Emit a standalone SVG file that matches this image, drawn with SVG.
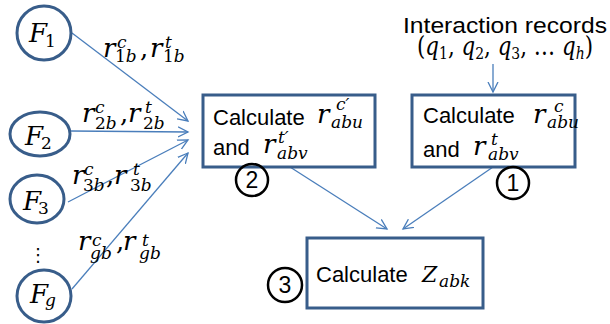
<svg xmlns="http://www.w3.org/2000/svg" width="610" height="324" viewBox="0 0 610 324">
<defs>
<marker id="arr" markerWidth="12" markerHeight="12" refX="10" refY="5" orient="auto" markerUnits="userSpaceOnUse" viewBox="0 0 12 10">
<path d="M0,0 L10,5 L0,10" fill="none" stroke="#4A7EBB" stroke-width="1.3"/>
</marker>
<style>
.node{fill:#fff;stroke:#385D8A;stroke-width:3}
.edge{stroke:#4A7EBB;stroke-width:1.3;fill:none;marker-end:url(#arr)}
.t{font-family:"Liberation Sans",Arial,sans-serif;font-size:22px;fill:#000}
.m{font-family:"DejaVu Serif","Liberation Serif",serif;font-style:italic;font-size:26px;fill:#000}
.s{font-size:17px}
.u{font-style:normal}
.badge{fill:none;stroke:#000;stroke-width:2.5}
.bn{font-family:"Liberation Sans",Arial,sans-serif;font-size:23px;text-anchor:middle;fill:#000}
</style>
</defs>
<rect width="610" height="324" fill="#fff"/>

<g id="connectors">
<path class="edge" d="M72,33 L188,121"/>
<path class="edge" d="M71,131 L188,132"/>
<path class="edge" d="M68,202 L188,140"/>
<path class="edge" d="M72,289 L188,153"/>
<path class="edge" d="M493,64 L493,92"/>
<path class="edge" d="M290,167 L387,229"/>
<path class="edge" d="M493,167 L403,229"/>
</g>

<g id="F1">
<ellipse class="node" cx="44" cy="33" rx="27" ry="27"/>
<text class="m" font-size="24"><tspan x="29" y="42">F</tspan><tspan class="s u" x="45" y="47">1</tspan></text>
</g>
<g id="F2">
<ellipse class="node" cx="40" cy="134" rx="30" ry="22"/>
<text class="m" font-size="24"><tspan x="25" y="145">F</tspan><tspan class="s u" x="41" y="149">2</tspan></text>
</g>
<g id="F3">
<ellipse class="node" cx="37" cy="199" rx="27" ry="24"/>
<text class="m" font-size="24"><tspan x="23" y="210">F</tspan><tspan class="s u" x="38" y="214">3</tspan></text>
</g>
<g id="dots">
<text x="38" y="261" font-family="DejaVu Sans,sans-serif" font-size="18" text-anchor="middle">⋮</text>
</g>
<g id="Fg">
<ellipse class="node" cx="44" cy="296" rx="27" ry="26"/>
<text class="m" font-size="24"><tspan x="30" y="303">F</tspan><tspan class="s" x="45" y="306">g</tspan></text>
</g>

<g id="label-1">
<text class="m"><tspan x="103" y="57">r</tspan><tspan class="s" x="117" y="48">c</tspan><tspan class="s" x="115" y="62"><tspan class="u">1</tspan>b</tspan><tspan class="u" x="140" y="57">,</tspan><tspan x="150" y="57">r</tspan><tspan class="s" x="165" y="48">t</tspan><tspan class="s" x="163" y="62"><tspan class="u">1</tspan>b</tspan></text>
</g>
<g id="label-2">
<text class="m"><tspan x="82" y="122">r</tspan><tspan class="s" x="95" y="113">c</tspan><tspan class="s" x="95" y="129"><tspan class="u">2</tspan>b</tspan><tspan class="u" x="120" y="122">,</tspan><tspan x="128" y="122">r</tspan><tspan class="s" x="145" y="113">t</tspan><tspan class="s" x="143" y="129"><tspan class="u">2</tspan>b</tspan></text>
</g>
<g id="label-3">
<text class="m"><tspan x="72" y="184">r</tspan><tspan class="s" x="84" y="175">c</tspan><tspan class="s" x="83" y="191"><tspan class="u">3</tspan>b</tspan><tspan class="u" x="106" y="184">,</tspan><tspan x="114" y="184">r</tspan><tspan class="s" x="133" y="175">t</tspan><tspan class="s" x="130" y="191"><tspan class="u">3</tspan>b</tspan></text>
</g>
<g id="label-g">
<text class="m"><tspan x="78" y="250">r</tspan><tspan class="s" x="92" y="246">c</tspan><tspan class="s" x="90" y="259">gb</tspan><tspan class="u" x="116" y="250">,</tspan><tspan x="123" y="250">r</tspan><tspan class="s" x="142" y="246">t</tspan><tspan class="s" x="139" y="259">gb</tspan></text>
</g>

<g id="calc-prime">
<rect class="node" x="203" y="95" width="172" height="72"/>
<text class="t" x="213" y="125">Calculate</text>
<text class="m"><tspan x="317" y="123">r</tspan><tspan class="s" x="336" y="110">c′</tspan><tspan class="s" x="331" y="128">abu</tspan></text>
<text class="t" x="213" y="155">and</text>
<text class="m"><tspan x="263" y="153">r</tspan><tspan class="s" x="278" y="143">t′</tspan><tspan class="s" x="277" y="159">abv</tspan></text>
</g>

<g id="interaction-records">
<text class="t" x="403" y="33" textLength="204" lengthAdjust="spacingAndGlyphs">Interaction records</text>
<text class="m" x="417" y="55" font-size="22" textLength="176" lengthAdjust="spacingAndGlyphs"><tspan class="u">(</tspan>q<tspan class="s u" font-size="16" dy="4">1</tspan><tspan class="u" dy="-4">, </tspan>q<tspan class="s u" font-size="16" dy="4">2</tspan><tspan class="u" dy="-4">, </tspan>q<tspan class="s u" font-size="16" dy="4">3</tspan><tspan class="u" dy="-4">, … </tspan>q<tspan class="s" font-size="16" dy="4">h</tspan><tspan class="u" dy="-4">)</tspan></text>
</g>

<g id="calc-base">
<rect class="node" x="412" y="95" width="163" height="72"/>
<text class="t" x="423" y="123">Calculate</text>
<text class="m"><tspan x="533" y="123">r</tspan><tspan class="s" x="554" y="112">c</tspan><tspan class="s" x="547" y="128">abu</tspan></text>
<text class="t" x="423" y="157">and</text>
<text class="m"><tspan x="473" y="155">r</tspan><tspan class="s" x="491" y="145">t</tspan><tspan class="s" x="488" y="160">abv</tspan></text>
</g>

<g id="calc-z">
<rect class="node" x="307" y="238" width="176" height="70"/>
<text class="t" x="316" y="282">Calculate</text>
<text class="m"><tspan x="422" y="282" font-size="22">Z</tspan><tspan class="s" x="439" y="287" font-size="18">abk</tspan></text>
</g>

<g id="badge-1">
<circle class="badge" cx="513" cy="183" r="16"/>
<text class="bn" x="513" y="191">1</text>
</g>
<g id="badge-2">
<circle class="badge" cx="252" cy="180" r="16"/>
<text class="bn" x="252" y="188">2</text>
</g>
<g id="badge-3">
<circle class="badge" cx="285" cy="285" r="17"/>
<text class="bn" x="285" y="293">3</text>
</g>
</svg>
